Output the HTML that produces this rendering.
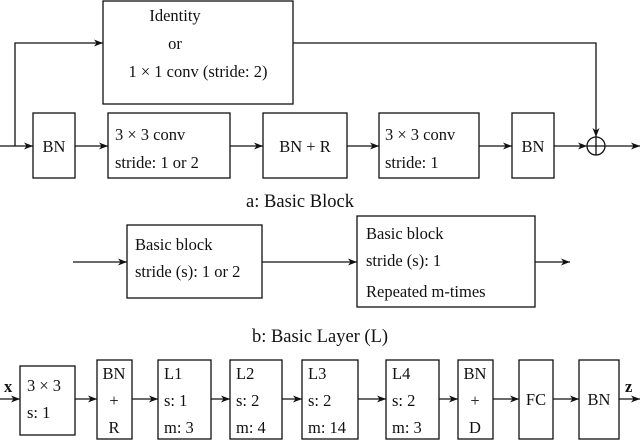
<!DOCTYPE html>
<html><head><meta charset="utf-8"><style>body{margin:0;background:#fff}svg{display:block}text{font-family:"Liberation Serif",serif;font-size:16.5px;fill:#111}</style></head><body>
<svg width="640" height="441" viewBox="0 0 640 441" xmlns="http://www.w3.org/2000/svg">
<defs><marker id="a" markerWidth="9" markerHeight="7" refX="9" refY="3.5" orient="auto" markerUnits="userSpaceOnUse"><path d="M0,0 L9,3.5 L0,7 L2.5,3.5z" fill="#111"/></marker></defs>
<g fill="none" stroke="#111" stroke-width="1.3">
<rect x="103" y="1" width="190" height="103"/>
<rect x="33" y="113" width="42" height="65"/>
<rect x="108" y="113" width="122" height="65"/>
<rect x="263" y="113" width="84" height="65"/>
<rect x="379" y="113" width="100" height="65"/>
<rect x="512" y="113" width="42" height="65"/>
<circle cx="596" cy="146" r="9"/>
<path d="M587,146h18M596,137v18"/>
<path d="M0,146H33" marker-end="url(#a)"/>
<path d="M15,146V43H103" marker-end="url(#a)"/>
<path d="M293,43H596V137" marker-end="url(#a)"/>
<path d="M75,146H108" marker-end="url(#a)"/>
<path d="M230,146H263" marker-end="url(#a)"/>
<path d="M347,146H379" marker-end="url(#a)"/>
<path d="M479,146H512" marker-end="url(#a)"/>
<path d="M554,146H587" marker-end="url(#a)"/>
<path d="M605,146H640" marker-end="url(#a)"/>
<rect x="127" y="225" width="135" height="73"/>
<rect x="357" y="216" width="178" height="91"/>
<path d="M73,262H127" marker-end="url(#a)"/>
<path d="M262,262H357" marker-end="url(#a)"/>
<path d="M535,262H570" marker-end="url(#a)"/>
<rect x="20" y="366" width="55" height="69"/>
<rect x="97" y="360" width="35" height="79"/>
<rect x="158" y="360" width="53" height="79"/>
<rect x="230" y="360" width="52" height="79"/>
<rect x="302" y="360" width="56" height="79"/>
<rect x="386" y="360" width="53" height="79"/>
<rect x="458" y="360" width="35" height="79"/>
<rect x="519" y="360" width="34" height="79"/>
<rect x="579" y="360" width="40" height="79"/>
<path d="M0,399H20" marker-end="url(#a)"/>
<path d="M75,399H97" marker-end="url(#a)"/>
<path d="M132,399H158" marker-end="url(#a)"/>
<path d="M211,399H230" marker-end="url(#a)"/>
<path d="M282,399H302" marker-end="url(#a)"/>
<path d="M358,399H386" marker-end="url(#a)"/>
<path d="M439,399H458" marker-end="url(#a)"/>
<path d="M493,399H519" marker-end="url(#a)"/>
<path d="M553,399H579" marker-end="url(#a)"/>
<path d="M619,399H640" marker-end="url(#a)"/>
</g>
<text x="175" y="21" text-anchor="middle">Identity</text>
<text x="175" y="49" text-anchor="middle">or</text>
<text x="198" y="77" text-anchor="middle">1 × 1 conv (stride: 2)</text>
<text x="54" y="152" text-anchor="middle">BN</text>
<text x="115" y="140">3 × 3 conv</text>
<text x="115" y="168">stride: 1 or 2</text>
<text x="305" y="152" text-anchor="middle">BN + R</text>
<text x="385" y="140">3 × 3 conv</text>
<text x="385" y="168">stride: 1</text>
<text x="533" y="152" text-anchor="middle">BN</text>
<text x="300" y="207" text-anchor="middle" style="font-size:18.5px">a: Basic Block</text>
<text x="135" y="250">Basic block</text>
<text x="135" y="277">stride (s): 1 or 2</text>
<text x="366" y="239">Basic block</text>
<text x="366" y="266">stride (s): 1</text>
<text x="366" y="297">Repeated m-times</text>
<text x="320" y="342" text-anchor="middle" style="font-size:18.5px">b: Basic Layer (L)</text>
<text x="4" y="392" style="font-weight:bold">x</text>
<text x="625" y="392" style="font-weight:bold">z</text>
<text x="27" y="391">3 × 3</text>
<text x="27" y="418">s: 1</text>
<text x="114" y="379" text-anchor="middle">BN</text>
<text x="114" y="406" text-anchor="middle">+</text>
<text x="114" y="433" text-anchor="middle">R</text>
<text x="164" y="379">L1</text><text x="164" y="406">s: 1</text><text x="164" y="433">m: 3</text>
<text x="236" y="379">L2</text><text x="236" y="406">s: 2</text><text x="236" y="433">m: 4</text>
<text x="308" y="379">L3</text><text x="308" y="406">s: 2</text><text x="308" y="433">m: 14</text>
<text x="392" y="379">L4</text><text x="392" y="406">s: 2</text><text x="392" y="433">m: 3</text>
<text x="475" y="379" text-anchor="middle">BN</text>
<text x="475" y="406" text-anchor="middle">+</text>
<text x="475" y="433" text-anchor="middle">D</text>
<text x="536" y="405" text-anchor="middle">FC</text>
<text x="599" y="405" text-anchor="middle">BN</text>
</svg></body></html>
